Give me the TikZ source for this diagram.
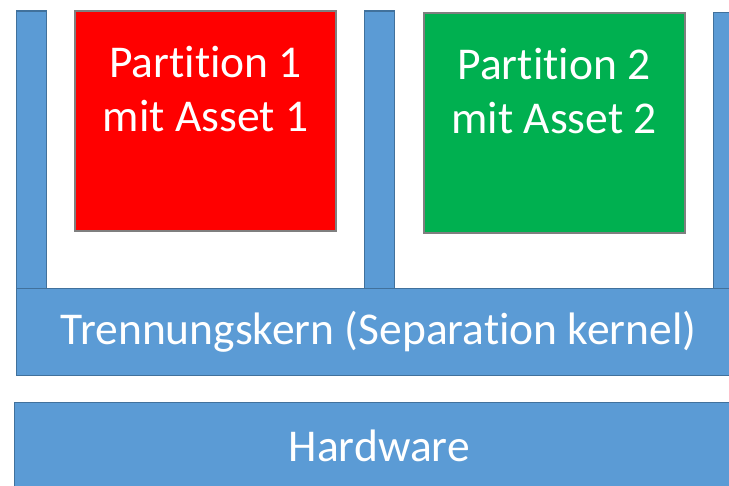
\documentclass[tikz,border=0pt]{standalone}
\usepackage{fontspec}
\setmainfont[Ligatures=NoCommon]{Carlito}
\usepackage{tikz}
\usetikzlibrary{positioning,calc}
\definecolor{layerblue}{HTML}{5B9BD5}
\definecolor{layerline}{HTML}{41719C}
\definecolor{partred}{HTML}{FF0000}
\definecolor{partgreen}{HTML}{00B050}
\definecolor{partline}{HTML}{7F7F7F}
\tikzset{
  layer/.style={rectangle, draw=layerline, fill=layerblue, line width=1.5pt, inner sep=0pt, anchor=north west},
  part/.style={rectangle, draw=partline, line width=2pt, inner sep=0pt, anchor=north west, minimum width=261pt, minimum height=220pt},
  pillar/.style={layer, minimum width=30pt},
  boxtext/.style={text=white, font=\fontsize{45.5}{54}\selectfont, align=center, anchor=base, inner sep=0pt}
}

\begin{document}
\begin{tikzpicture}[x=1pt,y=-1pt]
    \useasboundingbox (0,0) rectangle (729,486);
    \clip (0,0) rectangle (729,486);
    % separation pillars
    \node[pillar, minimum height=278pt] (pillarL) at (15.5,10.5) {};
    \node[pillar, minimum height=278pt] (pillarM) at (363.5,10.5) {};
    \node[pillar, minimum height=277pt] (pillarR) at (712.5,12) {};
    % kernel and hardware
    \node[layer, minimum width=725pt, minimum height=87pt] (kernel) at (15.5,288) {};
    \node[layer, minimum width=730pt, minimum height=100pt] (hardware) at (13.5,402) {};
    \node[boxtext] (kerneltext) at ($(kernel.north)+(0,57)$) {Trennungskern (Separation kernel)};
    \node[boxtext] (hwtext) at ($(hardware.north)+(0,60)$) {Hardware};
    % partitions
    \node[part, fill=partred] (part1) at (74,10) {};
    \node[part, fill=partgreen] (part2) at (422.5,12) {};
    \node[boxtext] (part1text) at ($(part1.north)+(0,122)$) {Partition 1\\mit Asset 1};
    \node[boxtext] (part2text) at ($(part2.north)+(0,122)$) {Partition 2\\mit Asset 2};
\end{tikzpicture}
\end{document}
